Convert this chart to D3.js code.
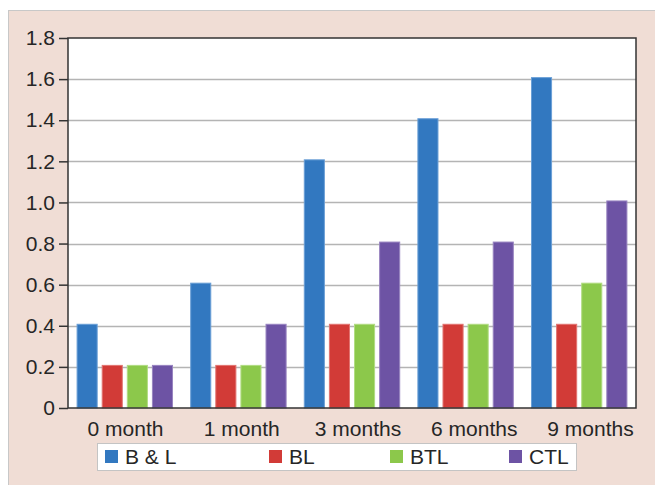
<!DOCTYPE html>
<html>
<head>
<meta charset="utf-8">
<script src="https://cdn.jsdelivr.net/npm/d3@7"></script>
<style>
  body { margin: 0; background: #fff; }
  svg { display: block; }
</style>
</head>
<body>
<script>
// data
var categories = ["0 month", "1 month", "3 months", "6 months", "9 months"];
var seriesNames = ["B & L", "BL", "BTL", "CTL"];
var bAndL = [0.4, 0.6, 1.2, 1.4, 1.6];
var bl = [0.2, 0.2, 0.4, 0.4, 0.4];
var btl = [0.2, 0.2, 0.4, 0.4, 0.6];
var ctl = [0.2, 0.4, 0.8, 0.8, 1.0];
var yTicks = [0, 0.2, 0.4, 0.6, 0.8, 1.0, 1.2, 1.4, 1.6, 1.8];

var W = 655, H = 485;
var colors = ["#3278c0", "#d23b37", "#8cc84b", "#6d53a4"];
var edges = ["#6a9fd6", "#e27471", "#b1dc82", "#9884c0"];
var fontFamily = "Liberation Sans, Arial, sans-serif";
var fontSize = "21px";
var textColor = "#262626";

var margin = {left: 68, top: 38, right: 636, bottom: 408};

var series = [bAndL, bl, btl, ctl];
var rows = [];
categories.forEach(function (c, i) {
    series.forEach(function (s, j) {
        rows.push({cat: c, name: seriesNames[j], idx: j, value: s[i]});
    });
});

var svg = d3.select("body").append("svg")
    .attr("width", W)
    .attr("height", H);

// outer panel
svg.append("rect")
    .attr("x", 8.5).attr("y", 10.5)
    .attr("width", W + 10).attr("height", H + 10)
    .attr("fill", "#f0ddd5")
    .attr("stroke", "#c8c8c8")
    .attr("stroke-width", 1);

var x0 = d3.scaleBand()
    .domain(categories)
    .range([margin.left, margin.right])
    .paddingInner(0.16)
    .paddingOuter(0.08);

var x1 = d3.scaleBand()
    .domain(seriesNames)
    .range([0, x0.bandwidth()])
    .paddingInner(0.2);

// the category labels sit a bit wider apart than the bar groups
var xLabel = d3.scalePoint()
    .domain(categories)
    .range([125, 590]);

var y = d3.scaleLinear()
    .domain([0, 1.8])
    .range([margin.bottom, margin.top]);

// plot background
svg.append("rect")
    .attr("x", margin.left).attr("y", margin.top)
    .attr("width", margin.right - margin.left)
    .attr("height", margin.bottom - margin.top)
    .attr("fill", "#fff");

// gridlines
svg.append("g")
    .selectAll("line")
    .data(yTicks.slice(1, -1))
    .enter()
    .append("line")
    .attr("x1", margin.left).attr("x2", margin.right)
    .attr("y1", function (d) { return Math.round(y(d)) + 0.5; })
    .attr("y2", function (d) { return Math.round(y(d)) + 0.5; })
    .attr("stroke", "#b4b4b4")
    .attr("stroke-width", 1.5);

// bars
svg.append("g")
    .selectAll("rect")
    .data(rows)
    .enter()
    .append("rect")
    .attr("x", function (d) { return x0(d.cat) + x1(d.name); })
    .attr("y", function (d) { return y(d.value) - 1.5; })
    .attr("width", x1.bandwidth())
    .attr("height", function (d) { return y(0) - y(d.value) + 1.5; })
    .attr("fill", function (d) { return colors[d.idx]; })
    .attr("stroke", function (d) { return edges[d.idx]; })
    .attr("stroke-width", 1);

// frame
svg.append("rect")
    .attr("x", margin.left).attr("y", margin.top)
    .attr("width", margin.right - margin.left)
    .attr("height", margin.bottom - margin.top)
    .attr("fill", "none")
    .attr("stroke", "#333")
    .attr("stroke-width", 1.5);

// y axis
var yAxis = d3.axisLeft(y)
    .tickValues(yTicks)
    .tickSize(9)
    .tickPadding(4)
    .tickFormat(function (d) { return d === 0 ? "0" : d3.format(".1f")(d); });

var ya = svg.append("g")
    .attr("transform", "translate(" + margin.left + ",0)")
    .call(yAxis);
ya.select(".domain").remove();
ya.selectAll("line").attr("stroke", "#333").attr("stroke-width", 1.5);
ya.selectAll("text")
    .attr("font-family", fontFamily)
    .attr("font-size", fontSize)
    .attr("fill", textColor);

// x axis labels
var xa = svg.append("g")
    .attr("transform", "translate(0," + margin.bottom + ")")
    .call(d3.axisBottom(xLabel).tickSize(0).tickPadding(13));
xa.select(".domain").remove();
xa.selectAll("text")
    .attr("font-family", fontFamily)
    .attr("font-size", fontSize)
    .attr("fill", textColor);

// legend
var legend = svg.append("g");
legend.append("rect")
    .attr("x", 97.5).attr("y", 443.5)
    .attr("width", 479).attr("height", 27)
    .attr("fill", "#fff")
    .attr("stroke", "#c4c4c4")
    .attr("stroke-width", 1);

var legendX = [105, 269, 390, 509];
var items = legend.selectAll("g.item")
    .data(seriesNames)
    .enter()
    .append("g")
    .attr("class", "item")
    .attr("transform", function (d, i) { return "translate(" + legendX[i] + ",450)"; });

items.append("rect")
    .attr("width", 13).attr("height", 13)
    .attr("fill", function (d, i) { return colors[i]; });

items.append("text")
    .attr("x", 20).attr("y", 14)
    .attr("font-family", fontFamily)
    .attr("font-size", fontSize)
    .attr("fill", textColor)
    .text(function (d) { return d; });
</script>
</body>
</html>
